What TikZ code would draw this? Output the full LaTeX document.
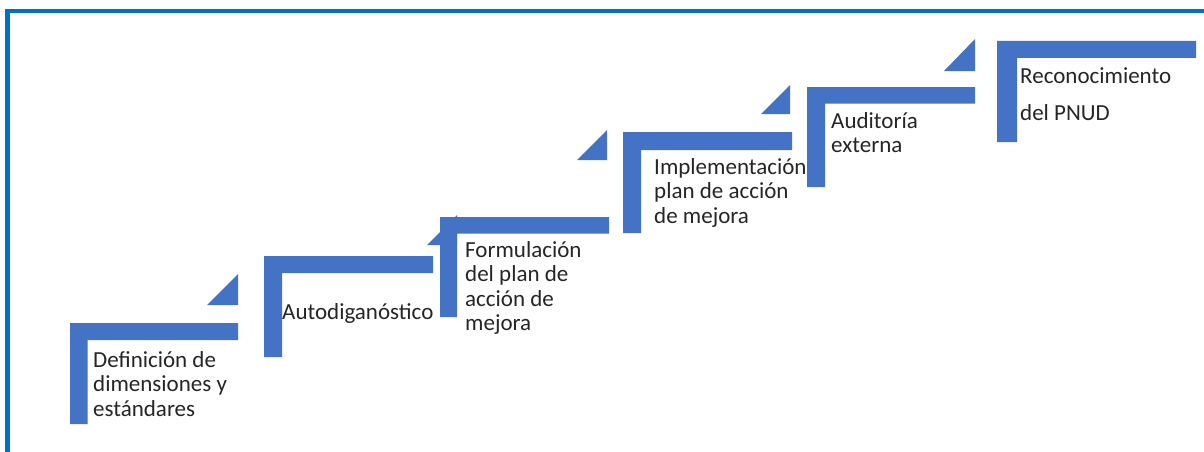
\documentclass[tikz,border=0pt]{standalone}
\usepackage{fontspec}
\setmainfont{Carlito}
\definecolor{stepblue}{HTML}{4472C4}
\definecolor{framblue}{HTML}{0070C0}
\definecolor{txtcol}{HTML}{262626}
\newcommand{\firststrut}{\rule{0pt}{20pt}}
\begin{document}
\begin{tikzpicture}[x=1pt,y=-1pt,
  stepfill/.style={fill=stepblue},
  label/.style={anchor=north west,inner sep=0pt,align=left,text=txtcol,
    font=\fontsize{23}{24.5}\selectfont},
  widelabel/.style={label,font=\fontsize{23}{37}\selectfont}]
\useasboundingbox (0,0) rectangle (1204,452);
\fill[white] (0,0) rectangle (1204,452);
% frame
\draw[framblue,line width=4.5pt] (7.5,452) -- (7.5,11) -- (1204,11);
% step 1
\fill[stepfill] (70,424) -- (70,323) -- (238,323) -- (238,340) -- (87.5,340) -- (87.5,424) -- cycle;
\fill[stepfill] (207,305) -- (238,305) -- (238,274) -- cycle;
% step 2
\fill[stepfill] (264,357) -- (264,256) -- (433,256) -- (433,273) -- (282,273) -- (282,357) -- cycle;
\fill[stepfill] (427,245) -- (457,245) -- (457,215) -- cycle;
% step 3
\fill[stepfill] (440,317) -- (440,217) -- (609,217) -- (609,233.5) -- (457,233.5) -- (457,317) -- cycle;
\fill[stepfill] (577,160) -- (607,160) -- (607,130) -- cycle;
% step 4
\fill[stepfill] (623,233) -- (623,132) -- (792,132) -- (792,150) -- (641,150) -- (641,233) -- cycle;
\fill[stepfill] (761,114) -- (790,114) -- (790,85) -- cycle;
% step 5
\fill[stepfill] (807,187) -- (807,87) -- (975,87) -- (975,103.5) -- (825,103.5) -- (825,187) -- cycle;
\fill[stepfill] (944,71) -- (975,71) -- (975,39) -- cycle;
% step 6
\fill[stepfill] (997,142) -- (997,41) -- (1196,41) -- (1196,58) -- (1017,58) -- (1017,142) -- cycle;
% labels (first baseline = y + 20)
\node[label] (t1) at (93,347) {\firststrut Definición de\\dimensiones y\\estándares};
\node[label] (t2) at (282,299) {\firststrut Autodiganóstico};
\node[label] (t3) at (465,237) {\firststrut Formulación\\del plan de\\acción de\\mejora};
\node[label] (t4) at (654,154) {\firststrut Implementación\\plan de acción\\de mejora};
\node[label] (t5) at (831,108) {\firststrut Auditoría\\externa};
\node[widelabel] (t6) at (1020,63) {\firststrut Reconocimiento\\del PNUD};
\end{tikzpicture}
\end{document}
